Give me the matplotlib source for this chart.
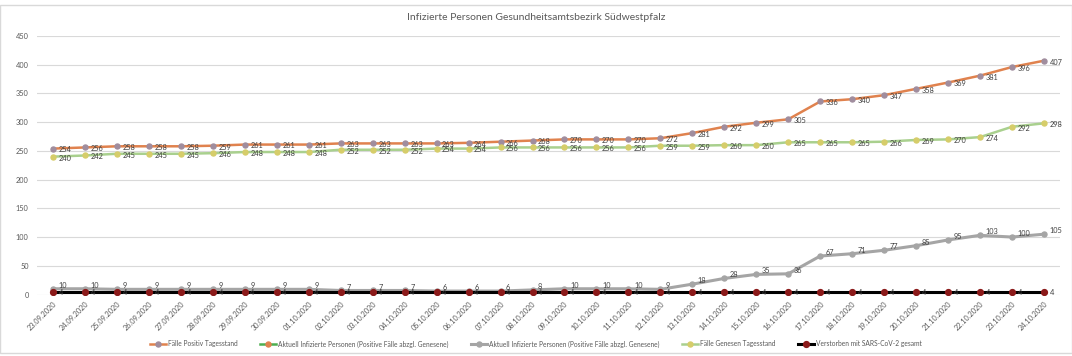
import matplotlib
matplotlib.use("Agg")
import matplotlib.pyplot as plt
from matplotlib.patches import Rectangle

plt.rcParams['font.family'] = ['Lato', 'DejaVu Sans']

dates = ['23.09.2020', '24.09.2020', '25.09.2020', '26.09.2020', '27.09.2020', '28.09.2020',
         '29.09.2020', '30.09.2020', '01.10.2020', '02.10.2020', '03.10.2020', '04.10.2020',
         '05.10.2020', '06.10.2020', '07.10.2020', '08.10.2020', '09.10.2020', '10.10.2020',
         '11.10.2020', '12.10.2020', '13.10.2020', '14.10.2020', '15.10.2020', '16.10.2020',
         '17.10.2020', '18.10.2020', '19.10.2020', '20.10.2020', '21.10.2020', '22.10.2020',
         '23.10.2020', '24.10.2020']
positiv = [254, 256, 258, 258, 258, 259, 261, 261, 261, 263, 263, 263, 263, 264, 266, 268,
           270, 270, 270, 272, 281, 292, 299, 305, 336, 340, 347, 358, 369, 381, 396, 407]
genesen = [240, 242, 245, 245, 245, 246, 248, 248, 248, 252, 252, 252, 254, 254, 256, 256,
           256, 256, 256, 259, 259, 260, 260, 265, 265, 265, 266, 269, 270, 274, 292, 298]
aktuell = [10, 10, 9, 9, 9, 9, 9, 9, 9, 7, 7, 7, 6, 6, 6, 8,
           10, 10, 10, 9, 18, 28, 35, 36, 67, 71, 77, 85, 95, 103, 100, 105]
aktuell_leer = []  # series shown only in the legend
verstorben = [4] * 32

title = 'Infizierte Personen Gesundheitsamtsbezirk Südwestpfalz'
lbl_pos = 'Fälle Positiv Tagesstand'
lbl_akt1 = 'Aktuell Infizierte Personen (Positive Fälle abzgl. Genesene)'
lbl_akt2 = 'Aktuell Infizierte Personen (Positive Fälle abzgl. Genesene)'
lbl_gen = 'Fälle Genesen Tagesstand'
lbl_tot = 'Verstorben mit SARS-CoV-2 gesamt'

fig = plt.figure(figsize=(10.72, 3.56), dpi=100)
ax = fig.add_axes([37/1072, 1-294.5/356, (1060-37)/1072, (294.5-36)/356])

x = list(range(len(dates)))
txtc = '#404040'

def labels(vals, dy=0):
    for i, v in zip(x, vals):
        ax.annotate(str(v), (i, v), xytext=(4, dy), textcoords='offset points',
                    fontsize=5.3, color=txtc, va='center', ha='left', zorder=10)

ax.plot(x, positiv, color='#e0824e', lw=1.8, marker='o', ms=3.6, mfc='#a08d9e', mec='#a08d9e',
        label=lbl_pos, zorder=4)
ax.plot(aktuell_leer, aktuell_leer, color='#4caf50', lw=1.8, marker='o', ms=3.6, mfc='#e0824e',
        mec='#e0824e', label=lbl_akt1)
ax.plot(x, aktuell, color='#a5a5a5', lw=2.2, marker='o', ms=3.6, mfc='#a5a5a5', mec='#a5a5a5',
        label=lbl_akt2, zorder=3)
ax.plot(x, genesen, color='#a9d08e', lw=1.8, marker='o', ms=3.6, mfc='#d6cd6a', mec='#d6cd6a',
        label=lbl_gen, zorder=4)
ax.plot(x, verstorben, color='black', lw=2.2, marker='o', ms=4.2, mfc='#8b1a1a', mec='#8b1a1a',
        label=lbl_tot, zorder=5)

labels(positiv, -1)
labels(genesen, -1)
labels(aktuell, 2.5)
labels(verstorben, -0.5)

ax.set_xlim(-0.5, len(dates) - 0.5)
ax.set_ylim(0, 450)
ax.set_yticks(range(0, 451, 50))
ax.set_xticks(x)
ax.set_xticklabels(dates, rotation=45, ha='right', va='top', rotation_mode='anchor')
ax.tick_params(axis='both', length=0, labelsize=5.3, colors='#595959')
ax.tick_params(axis='x', pad=4)
ax.tick_params(axis='y', pad=6)
ax.grid(axis='y', color='#d9d9d9', lw=0.8)
ax.set_axisbelow(True)
for s in ax.spines.values():
    s.set_visible(False)

fig.text(0.5, 1-17/356, title, ha='center', va='center', fontsize=7.5, color='#595959')
fig.legend(loc='center', bbox_to_anchor=(0.5, 1-344/356), ncol=5, frameon=False,
           fontsize=4.8, handlelength=2.4, handletextpad=0.3, columnspacing=3.4,
           labelcolor='#595959')

fig.patches.append(Rectangle((0, 3/356), 1, 1-8/356, transform=fig.transFigure, fill=False,
                             edgecolor='#d9d9d9', lw=1))

fig.savefig('out.png', dpi=100)
